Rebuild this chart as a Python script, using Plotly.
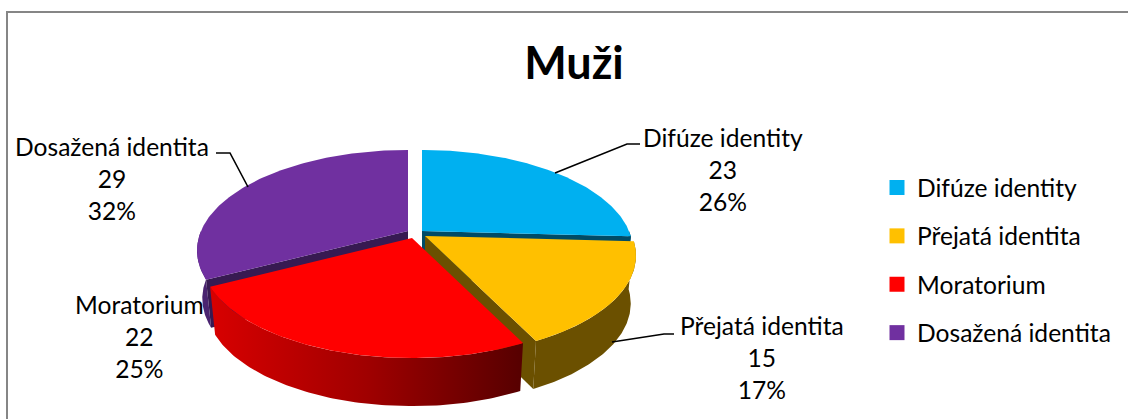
import numpy as np
import plotly.graph_objects as go

# ---- data ----
title_text = "Muži"
categories = ["Difúze identity", "Přejatá identita", "Moratorium", "Dosažená identita"]
values = [23, 15, 22, 29]
percent_labels = ["26%", "17%", "25%", "32%"]

# ---- style ----
top_colors = ["#00B0F0", "#FFC000", "#FF0000", "#7030A0"]
cut_colors = ["#004B66", "#6B5000", None, "#371A52"]
visible_cut_edge = [1, 1, None, 0]   # which radial edge of each slice faces the viewer
FONT = "Lato"
W, H = 1128, 419
RX, KY, PERSP, DEPTH, RIM_X = 207.0, 96.8, 5.15, 48.0, 0.975
apexes = [(422, 231), (425, 236), (412, 238), (408, 231)]   # exploded slice centres
draw_order = [3, 0, 1, 2]
label_pos = [(723, 169), (762, 357), (139, 336), (112, 178)]
leaders = [
    [(555, 173), (627, 144), (640, 144)],
    [(612, 342), (664, 334), (674, 334)],
    None,
    [(248, 187), (230, 153), (216, 153)],
]


def project(theta_deg, apex, rim=False):
    t = np.radians(np.asarray(theta_deg, dtype=float))
    depth_axis = -np.cos(t)
    s = PERSP / (PERSP - depth_axis)
    x = RX * np.sin(t) * s * (RIM_X if rim else 1.0) + apex[0]
    y = KY * depth_axis * s + apex[1] + (DEPTH if rim else 0.0)
    return x, y


fig = go.Figure()
edges = np.concatenate([[0], np.cumsum(values)]) / sum(values) * 360.0


def poly(x, y, **kw):
    fig.add_trace(go.Scatter(x=x, y=y, mode="lines", fill="toself", line=dict(width=0),
                             hoverinfo="skip", showlegend=False, **kw))


for i in draw_order:
    a0, a1 = edges[i], edges[i + 1]
    apex = apexes[i]
    th = np.linspace(a0, a1, 120)
    # outer side wall: only the part of the arc that faces the viewer
    f0, f1 = max(a0, 90.0), min(a1, 270.0)
    if f1 > f0:
        fr = np.linspace(f0, f1, 100)
        xt, yt = project(fr, apex)
        xb, yb = project(fr, apex, rim=True)
        sx = np.concatenate([xt, xb[::-1]])
        sy = np.concatenate([yt, yb[::-1]])
        if i == 2:
            poly(sx, sy, fillgradient=dict(type="horizontal", colorscale=[
                [0, "#D80000"], [0.5, "#A00000"], [1, "#560000"]]))
        elif i == 1:
            poly(sx, sy, fillcolor="#6B5000")
        elif i == 3:
            poly(sx, sy, fillcolor="#4A2470")
        else:
            poly(sx, sy, fillcolor=cut_colors[i])
    # radial cut face that faces the viewer
    if cut_colors[i]:
        ang = edges[i + visible_cut_edge[i]]
        tx, ty = project(ang, apex)
        bx, by = project(ang, apex, rim=True)
        poly([apex[0], float(tx), float(bx), apex[0]],
             [apex[1], float(ty), float(by), apex[1] + DEPTH],
             fillcolor=cut_colors[i])
    # top face
    x, y = project(th, apex)
    poly(np.concatenate([[apex[0]], x]), np.concatenate([[apex[1]], y]), fillcolor=top_colors[i])

# legend entries
for name, color in zip(categories, top_colors):
    fig.add_trace(go.Scatter(x=[None], y=[None], mode="markers", name=name, legendgroup=name,
                             marker=dict(symbol="square", size=15, color=color)))

annotations = []
for name, val, pct, pos in zip(categories, values, percent_labels, label_pos):
    annotations.append(dict(x=pos[0], y=pos[1], xref="x", yref="y", showarrow=False,
                            text=f"{name}<br>{val}<br>{pct}", align="center",
                            font=dict(family=FONT, size=24.6, color="#000000")))

shapes = [dict(type="rect", xref="x", yref="y", x0=7, y0=12, x1=W + 20, y1=H + 20,
               line=dict(color="#868686", width=2), layer="below")]
for seg in leaders:
    if seg:
        path = "M " + " L ".join(f"{a},{b}" for a, b in seg)
        shapes.append(dict(type="path", xref="x", yref="y", path=path,
                           line=dict(color="#000000", width=1.6)))

fig.update_layout(
    width=W, height=H, autosize=False,
    margin=dict(l=0, r=0, t=0, b=0),
    paper_bgcolor="#FFFFFF", plot_bgcolor="#FFFFFF",
    title=dict(text=f"<b>{title_text}</b>", x=574 / W, y=1 - 63 / H, xanchor="center", yanchor="middle",
               font=dict(family=FONT, size=45, color="#000000")),
    xaxis=dict(range=[0, W], visible=False, fixedrange=True),
    yaxis=dict(range=[H, 0], visible=False, fixedrange=True),
    annotations=annotations, shapes=shapes,
    legend=dict(x=877 / W, y=1 - 165 / H, xanchor="left", yanchor="top", font=dict(family=FONT, size=24.6, color="#000000"),
                tracegroupgap=13.4, bgcolor="rgba(0,0,0,0)", itemclick=False, itemdoubleclick=False),
    showlegend=True,
)
fig.write_html("out.html", config=dict(displayModeBar=False),
               post_script="document.body.style.margin='0';document.documentElement.style.overflow='hidden';")
